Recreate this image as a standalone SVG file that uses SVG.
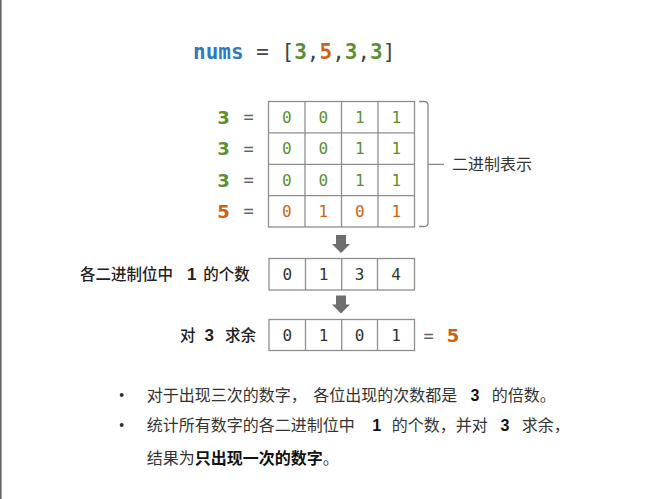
<svg xmlns="http://www.w3.org/2000/svg" width="670" height="499" viewBox="0 0 670 499">
<defs>
<style>
.mono{font-family:"DejaVu Sans Mono","Liberation Mono",monospace;}
.cjk{font-family:"Liberation Sans","Noto Sans CJK SC",sans-serif;}
.g{fill:#5b8f36;}
.o{fill:#cc6218;}
.d{fill:#333333;}
.cell{fill:none;stroke:#8e8e8e;stroke-width:1.3;}
.num{font-size:16px;text-anchor:middle;dominant-baseline:central;}
.lab{font-size:18px;font-weight:bold;text-anchor:middle;dominant-baseline:central;font-family:"DejaVu Sans","Liberation Sans",sans-serif;}
.eq{font-size:17px;fill:#666;text-anchor:middle;dominant-baseline:central;}
.arrow{fill:#6e6e6e;}
.bul{font-size:16px;fill:#333;dominant-baseline:central;}
.b{font-weight:bold;fill:#111;}
.lbl{font-size:15.5px;font-weight:500;fill:#222;dominant-baseline:central;}
.lnum{font-size:17px;font-weight:bold;fill:#222;text-anchor:middle;dominant-baseline:central;}
</style>
</defs>
<rect width="670" height="499" fill="#ffffff"/>
<rect x="0" y="0" width="1.6" height="499" fill="#666"/>

<g id="title">
<text x="193" y="52" class="mono" font-size="21" dominant-baseline="central"><tspan font-weight="bold" fill="#2f7abf">nums</tspan><tspan fill="#444"> = [</tspan><tspan font-weight="bold" class="g">3</tspan><tspan fill="#444">,</tspan><tspan font-weight="bold" class="o">5</tspan><tspan fill="#444">,</tspan><tspan font-weight="bold" class="g">3</tspan><tspan fill="#444">,</tspan><tspan font-weight="bold" class="g">3</tspan><tspan fill="#444">]</tspan></text>
</g>

<g id="binary-grid">
<rect class="cell" x="268.5" y="101.5" width="146" height="125.5"/>
<line class="cell" x1="305" y1="101.5" x2="305" y2="227"/>
<line class="cell" x1="341.5" y1="101.5" x2="341.5" y2="227"/>
<line class="cell" x1="378" y1="101.5" x2="378" y2="227"/>
<line class="cell" x1="268.5" y1="132.9" x2="414.5" y2="132.9"/>
<line class="cell" x1="268.5" y1="164.3" x2="414.5" y2="164.3"/>
<line class="cell" x1="268.5" y1="195.6" x2="414.5" y2="195.6"/>
<g class="mono num g">
<text x="286.7" y="117.4">0</text><text x="323.2" y="117.4">0</text><text x="359.7" y="117.4">1</text><text x="396.2" y="117.4">1</text>
<text x="286.7" y="148.7">0</text><text x="323.2" y="148.7">0</text><text x="359.7" y="148.7">1</text><text x="396.2" y="148.7">1</text>
<text x="286.7" y="180">0</text><text x="323.2" y="180">0</text><text x="359.7" y="180">1</text><text x="396.2" y="180">1</text>
</g>
<g class="mono num o">
<text x="286.7" y="211.3">0</text><text x="323.2" y="211.3">1</text><text x="359.7" y="211.3">0</text><text x="396.2" y="211.3">1</text>
</g>
</g>

<g id="row-labels">
<text class="lab g" x="223.5" y="117.4">3</text><text class="mono eq" x="248.5" y="117.4">=</text>
<text class="lab g" x="223.5" y="148.7">3</text><text class="mono eq" x="248.5" y="148.7">=</text>
<text class="lab g" x="223.5" y="180">3</text><text class="mono eq" x="248.5" y="180">=</text>
<text class="lab o" x="223.5" y="211.3">5</text><text class="mono eq" x="248.5" y="211.3">=</text>
</g>

<g id="bracket">
<path d="M419,101.5 H424 Q428,101.5 428,105.5 V222.5 Q428,226.5 424,226.5 H419 M428,164.3 H444" fill="none" stroke="#888" stroke-width="1.3"/>
<text class="cjk" x="452" y="164.3" font-size="16" fill="#333" dominant-baseline="central">二进制表示</text>
</g>

<g id="connectors">
<path class="arrow" d="M336,235 H346 V244 H350 L341,253 L332,244 H336 Z"/>
<path class="arrow" d="M336,295.5 H346 V304.5 H350 L341,313.5 L332,304.5 H336 Z"/>
</g>

<g id="count-row">
<rect class="cell" x="269" y="258.5" width="145.5" height="31.5"/>
<line class="cell" x1="305.5" y1="258.5" x2="305.5" y2="290"/>
<line class="cell" x1="341.7" y1="258.5" x2="341.7" y2="290"/>
<line class="cell" x1="377.5" y1="258.5" x2="377.5" y2="290"/>
<g class="mono num d">
<text x="287.2" y="274.3">0</text><text x="323.6" y="274.3">1</text><text x="359.6" y="274.3">3</text><text x="396" y="274.3">4</text>
</g>
<g class="cjk">
<text class="lbl" x="80" y="274.5">各二进制位中</text>
<text class="lnum" x="191.7" y="274.5">1</text>
<text class="lbl" x="203.3" y="274.5">的个数</text>
</g>
</g>

<g id="mod-row">
<rect class="cell" x="269" y="319.5" width="145.5" height="31"/>
<line class="cell" x1="305.5" y1="319.5" x2="305.5" y2="350.5"/>
<line class="cell" x1="341.7" y1="319.5" x2="341.7" y2="350.5"/>
<line class="cell" x1="377.5" y1="319.5" x2="377.5" y2="350.5"/>
<g class="mono num d">
<text x="287.2" y="335.2">0</text><text x="323.6" y="335.2">1</text><text x="359.6" y="335.2">0</text><text x="396" y="335.2">1</text>
</g>
<g class="cjk">
<text class="lbl" x="180" y="335.5">对</text>
<text class="lnum" x="209.3" y="335.5">3</text>
<text class="lbl" x="225" y="335.5">求余</text>
</g>
<text class="mono eq" x="428.5" y="335.5">=</text>
<text class="lab o" x="453" y="335.5" font-size="19">5</text>
</g>

<g id="notes" class="cjk">
<circle cx="121.7" cy="395" r="2" fill="#333"/>
<circle cx="121.7" cy="425" r="2" fill="#333"/>
<text class="bul" x="146.7" y="395">对于出现三次的数字，</text>
<text class="bul" x="313.3" y="395">各位出现的次数都是</text>
<text class="bul b" x="475" y="395" text-anchor="middle">3</text>
<text class="bul" x="491.7" y="395">的倍数。</text>
<text class="bul" x="146.7" y="425">统计所有数字的各二进制位中</text>
<text class="bul b" x="376.7" y="425" text-anchor="middle">1</text>
<text class="bul" x="391.7" y="425">的个数，并对</text>
<text class="bul b" x="505" y="425" text-anchor="middle">3</text>
<text class="bul" x="521.7" y="425">求余，</text>
<text class="bul" x="146.7" y="458">结果为<tspan class="b">只出现一次的数字</tspan>。</text>
</g>
</svg>
